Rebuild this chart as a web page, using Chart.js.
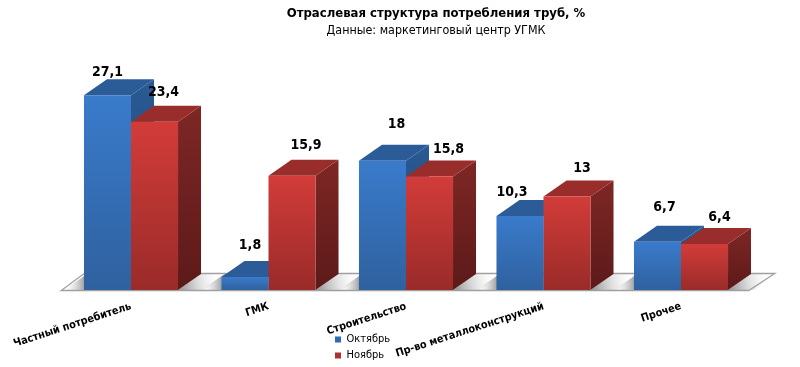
<!DOCTYPE html>
<html><head><meta charset="utf-8">
<style>html,body{margin:0;padding:0;background:#fff}#w{position:relative;width:800px;height:367px}</style>
<script src="https://cdn.jsdelivr.net/npm/chart.js@4"></script>
</head><body><div id="w"><canvas id="c" width="800" height="367"></canvas></div>
<script>
const categories = ["Частный потребитель","ГМК","Строительство","Пр-во металлоконструкций","Прочее"];
const october = [27.1,1.8,18,10.3,6.7];
const november = [23.4,15.9,15.8,13,6.4];
const octoberName = "Октябрь", novemberName = "Ноябрь";
const titleText = "Отраслевая структура потребления труб, %";
const subtitleText = "Данные: маркетинговый центр УГМК";
const octLabelShift = [[0,-23],[5,-32],[14,-36],[-8,-24],[7,-34]];
const novLabelShift = [[9,-29],[14,-30],[19,-27],[15,-28],[15,-27]];
const DX=23, DY=16;
const fontFam = "'DejaVu Sans Condensed','Liberation Sans',sans-serif";

function poly(ctx,pts,fill){ctx.beginPath();pts.forEach((p,i)=>i?ctx.lineTo(p[0],p[1]):ctx.moveTo(p[0],p[1]));ctx.closePath();ctx.fillStyle=fill;ctx.fill();}
const palette=[{top:'#2b5c98',s0:'#2a5a94',s1:'#1f4474',f0:'#3a7bcb',f1:'#2f619f'},{top:'#992d2b',s0:'#7e2725',s1:'#5c1a19',f0:'#d23c39',f1:'#9a2b29'}];

const extrude={id:'extrude',
 beforeDatasetsDraw(chart){
  const ctx=chart.ctx,a=chart.chartArea,y=a.bottom,l=a.left-1,r=a.right-1;
  poly(ctx,[[l,y],[l+DX,y-DY-1],[r+DX+3,y-DY-1],[r,y]],'#ffffff');
  const m=chart.getDatasetMeta(0).data, n=chart.getDatasetMeta(1).data;
  m.forEach((b,i)=>{
    const x0=n[i].x+n[i].width/2;
    const g=ctx.createLinearGradient(x0,y,x0+DX+22,y-DY+8);
    g.addColorStop(0,'rgba(120,120,120,.85)');g.addColorStop(.5,'rgba(205,205,205,.6)');g.addColorStop(1,'rgba(255,255,255,0)');
    poly(ctx,[[x0,y],[x0+DX,y-DY],[x0+DX+26,y-DY],[x0+26,y]],g);
    const x1=b.x-b.width/2;
    const h=ctx.createLinearGradient(x1,y,x1-22,y);
    h.addColorStop(0,'rgba(140,140,140,.8)');h.addColorStop(1,'rgba(255,255,255,0)');
    poly(ctx,[[x1,y],[x1-20,y],[x1-20+DX,y-DY],[x1+DX,y-DY]],h);
  });
  ctx.strokeStyle='#a0a0a0';ctx.lineWidth=1.3;
  ctx.beginPath();ctx.moveTo(l+DX,y-DY-.5);ctx.lineTo(l,y+.5);ctx.lineTo(r,y+.5);ctx.lineTo(r+DX+3,y-DY-.5);ctx.lineTo(l+DX,y-DY-.5);ctx.stroke();
  [0,1].forEach(k=>{
   const c=palette[k];
   chart.getDatasetMeta(k).data.forEach(b=>{
    const x=b.x+b.width/2,xl=b.x-b.width/2,t=b.y,bt=b.base;
    const g=ctx.createLinearGradient(0,t-DY,0,bt);g.addColorStop(0,c.s0);g.addColorStop(1,c.s1);
    poly(ctx,[[x,t],[x+DX,t-DY],[x+DX,bt-DY],[x,bt]],g);
    poly(ctx,[[xl,t],[xl+DX,t-DY],[x+DX,t-DY],[x,t]],c.top);
   });
  });
 },
 afterDatasetsDraw(chart){
  const ctx=chart.ctx;
  [octLabelShift,novLabelShift].forEach((sh,d)=>{
   const vals=chart.data.datasets[d].data;
   chart.getDatasetMeta(d).data.forEach((b,i)=>{
    ctx.font="bold 14px "+fontFam;ctx.fillStyle='#000';ctx.textAlign='center';ctx.textBaseline='middle';
    ctx.fillText(String(vals[i]).replace('.',','),b.x+sh[i][0],b.y+sh[i][1]);
   });
  });
 },
 afterLayout(chart){
  const l=chart.legend;const dx=330-l.left,dy=329-l.top;
  l.left+=dx;l.right+=dx;l.top+=dy;l.bottom+=dy;
  l.legendHitBoxes.forEach(h=>{h.left+=dx;h.top+=dy;});
  chart.boxes.filter(b=>b.options&&b.options.text).forEach(b=>{b.left+=30;b.right+=30;});
 }
};
const grad=(k)=>(ctx)=>{
  const ch=ctx.chart,a=ch.chartArea;if(!a)return palette[k].f0;
  const g=ch.ctx.createLinearGradient(0,ch.scales.y.getPixelForValue(ctx.raw),0,a.bottom);
  g.addColorStop(0,palette[k].f0);g.addColorStop(1,palette[k].f1);return g;};

new Chart(document.getElementById('c'),{
 type:'bar',
 data:{labels:categories,datasets:[
  {label:octoberName,data:october,backgroundColor:grad(0),categoryPercentage:.684,barPercentage:1},
  {label:novemberName,data:november,backgroundColor:grad(1),categoryPercentage:.684,barPercentage:1}
 ]},
 options:{responsive:false,animation:false,
  layout:{padding:{left:62.25,right:50.25,top:0,bottom:0}},
  plugins:{tooltip:{enabled:false},
   title:{display:true,text:titleText,color:'#000',font:{family:fontFam,size:13,weight:'bold'},padding:{top:6,bottom:2}},
   subtitle:{display:true,text:subtitleText,color:'#000',font:{family:fontFam,size:12.4,weight:'normal'},padding:{top:0,bottom:0}},
   legend:{position:'chartArea',align:'start',labels:{boxWidth:6,boxHeight:6,padding:5,color:'#000',font:{family:fontFam,size:11},
     generateLabels(ch){return ch.data.datasets.map((d,i)=>({text:d.label,fillStyle:['#2f6bb5','#b0302e'][i],strokeStyle:'transparent',lineWidth:0,datasetIndex:i}));}}}
  },
  scales:{
   x:{grid:{display:false,drawTicks:false},border:{display:false},
      ticks:{minRotation:18,maxRotation:18,padding:10,color:'#000',autoSkip:false,font:{family:fontFam,size:10.8,weight:'bold'}},
      afterFit(s){s.height=77;s.paddingLeft=0;s.paddingRight=0;}},
   y:{display:false,min:0,max:35,afterFit(s){s.width=0;}}
  }
 },
 plugins:[extrude]
});
</script></body></html>
